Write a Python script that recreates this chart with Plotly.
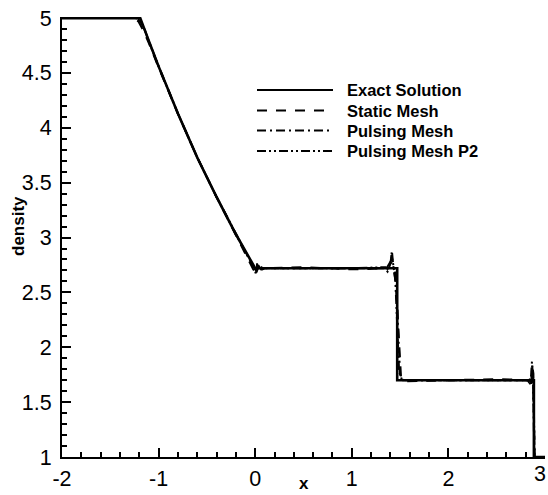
import plotly.graph_objects as go

# ---------------- data ----------------
exact_x = [-2.0, -1.19, -1.1, -1.0, -0.8, -0.6, -0.4, -0.2, 0.0, 1.47, 1.47, 2.885, 2.885, 3.0]
exact_rho = [5.0, 5.0, 4.79, 4.56, 4.13, 3.73, 3.37, 3.03, 2.72, 2.72, 1.70, 1.70, 1.0, 1.0]

static_x = [-2.0, -1.26, -1.21, -1.16, -1.1, -1.0, -0.8, -0.6, -0.4, -0.2, -0.02, 0.01, 0.03,
            0.06, 0.1, 0.5, 1.0, 1.36, 1.40, 1.42, 1.45, 1.48, 1.51, 1.55, 2.0, 2.5, 2.84,
            2.865, 2.875, 2.895, 3.0]
static_rho = [5.0, 5.0, 4.97, 4.89, 4.77, 4.55, 4.13, 3.73, 3.37, 3.03, 2.71, 2.68, 2.75,
              2.71, 2.72, 2.73, 2.71, 2.72, 2.78, 2.76, 2.70, 2.20, 1.72, 1.69, 1.70, 1.71,
              1.70, 1.78, 1.73, 1.0, 1.0]

pulse_x = [-2.0, -1.25, -1.2, -1.15, -1.1, -1.0, -0.8, -0.6, -0.4, -0.2, -0.01, 0.01, 0.02,
           0.05, 0.1, 0.5, 1.0, 1.34, 1.37, 1.40, 1.415, 1.43, 1.46, 1.50, 1.53, 2.0, 2.5,
           2.82, 2.85, 2.865, 2.875, 2.89, 3.0]
pulse_rho = [5.0, 5.0, 4.98, 4.91, 4.78, 4.56, 4.13, 3.73, 3.37, 3.03, 2.72, 2.66, 2.77,
             2.70, 2.72, 2.72, 2.72, 2.72, 2.69, 2.76, 2.88, 2.74, 2.55, 1.75, 1.70, 1.70,
             1.70, 1.70, 1.66, 1.87, 1.74, 1.0, 1.0]

p2_x = [-2.0, -1.24, -1.2, -1.16, -1.1, -1.0, -0.8, -0.6, -0.4, -0.2, -0.01, 0.015, 0.04,
        0.08, 0.5, 1.0, 1.35, 1.39, 1.41, 1.425, 1.45, 1.49, 1.52, 2.0, 2.5, 2.83, 2.855,
        2.868, 2.88, 2.892, 3.0]
p2_rho = [5.0, 5.0, 4.99, 4.93, 4.79, 4.56, 4.13, 3.73, 3.37, 3.03, 2.72, 2.69, 2.74,
          2.72, 2.72, 2.72, 2.73, 2.70, 2.84, 2.78, 2.62, 1.78, 1.70, 1.70, 1.70, 1.70,
          1.65, 1.83, 1.76, 1.0, 1.0]

series_names = ["Exact Solution", "Static Mesh", "Pulsing Mesh", "Pulsing Mesh P2"]
x_ticks = [-2, -1, 0, 1, 2, 3]
y_ticks = [1, 1.5, 2, 2.5, 3, 3.5, 4, 4.5, 5]

# ---------------- styles ----------------
dashes = ["solid", "10px,9px", "9px,4px,2px,4px", "9px,3px,2px,3px,2px,3px"]
widths = [2.6, 2.0, 2.0, 2.0]
xs = [exact_x, static_x, pulse_x, p2_x]
ys = [exact_rho, static_rho, pulse_rho, p2_rho]
FONT = "Liberation Sans, Arial, Helvetica"

W, H = 548, 495
L, R, T, B = 62, 3, 17, 38
pw, ph = W - L - R, H - T - B

fig = go.Figure()
for i in range(4):
    fig.add_trace(go.Scatter(x=xs[i], y=ys[i], mode="lines", name=series_names[i],
                             line=dict(color="black", width=widths[i], dash=dashes[i]),
                             showlegend=False))


def px2paper_x(px):
    return (px - L) / pw


def px2paper_y(py):
    return 1 - (py - T) / ph


# manual legend
rows = [90, 110.5, 130.5, 151]
for i, name in enumerate(series_names):
    yy = px2paper_y(rows[i])
    fig.add_shape(type="line", xref="paper", yref="paper",
                  x0=px2paper_x(257), x1=px2paper_x(333), y0=yy, y1=yy,
                  line=dict(color="black", width=2, dash=dashes[i]))
    fig.add_annotation(xref="paper", yref="paper", x=px2paper_x(345), y=yy,
                       text="<b>%s</b>" % name, showarrow=False, xanchor="left",
                       yanchor="middle", font=dict(family=FONT, size=16.5, color="black"))

# axis titles
fig.add_annotation(xref="paper", yref="paper", x=px2paper_x(304), y=px2paper_y(484),
                   text="<b>x</b>", showarrow=False, xanchor="center", yanchor="middle",
                   font=dict(family=FONT, size=17, color="black"))
fig.add_annotation(xref="paper", yref="paper", x=px2paper_x(18), y=px2paper_y(226),
                   text="<b>density</b>", showarrow=False, textangle=-90,
                   xanchor="center", yanchor="middle",
                   font=dict(family=FONT, size=17, color="black"))

# right-most x tick label, kept just inside the page edge
fig.add_annotation(xref="paper", yref="paper", x=px2paper_x(548), y=px2paper_y(460),
                   text="3", showarrow=False, xanchor="right", yanchor="top",
                   font=dict(family=FONT, size=21.5, color="black"))

axis_common = dict(showgrid=False, zeroline=False, showline=True, linecolor="black",
                   linewidth=2, ticks="inside", ticklen=9, tickwidth=2, tickcolor="black",
                   tickfont=dict(family=FONT, size=21.5, color="black"), mirror=False)

fig.update_layout(
    width=W, height=H,
    margin=dict(l=L, r=R, t=T, b=B, pad=0),
    paper_bgcolor="white", plot_bgcolor="white",
    xaxis=dict(range=[-2, 3], tickvals=x_ticks,
               ticktext=[str(v) if v != 3 else "" for v in x_ticks],
               minor=dict(dtick=0.2, ticks="inside", ticklen=5, tickwidth=1.5,
                          tickcolor="black", showgrid=False),
               ticklabelstandoff=1, **axis_common),
    yaxis=dict(range=[1, 5.01], tickvals=y_ticks, ticktext=[("%g" % v) for v in y_ticks],
               minor=dict(dtick=0.1, ticks="inside", ticklen=5, tickwidth=1.5,
                          tickcolor="black", showgrid=False),
               ticklabelstandoff=4, **axis_common),
    showlegend=False,
)

fig.write_html("out.html")
